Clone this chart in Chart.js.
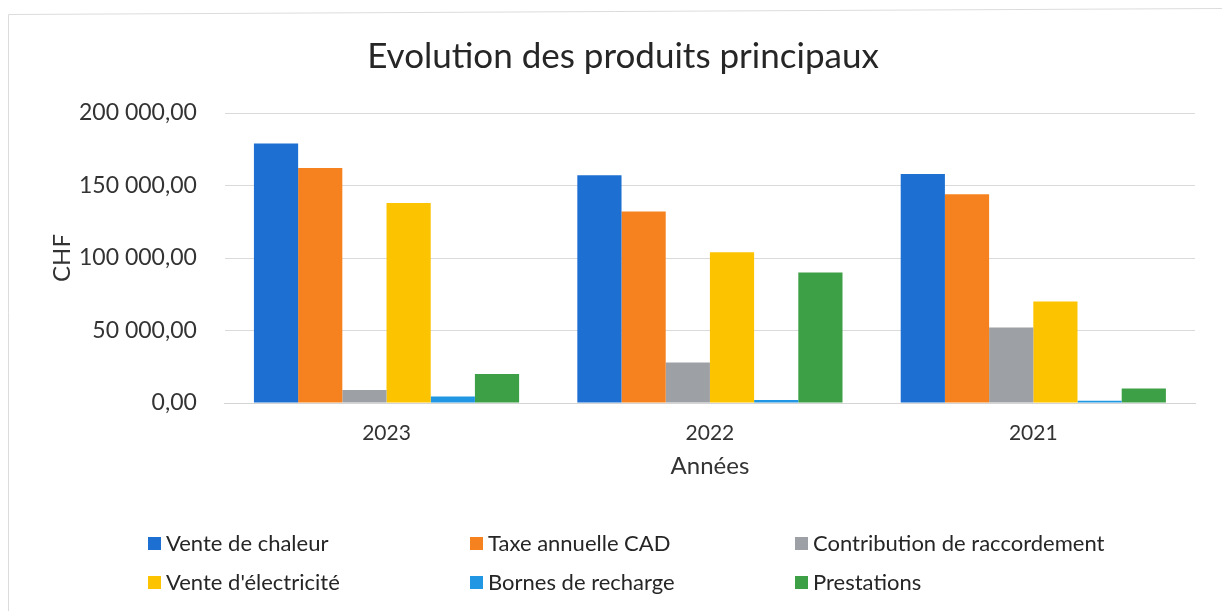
<!DOCTYPE html>
<html>
<head>
<meta charset="utf-8">
<script src="https://cdn.jsdelivr.net/npm/chart.js@4"></script>
<style>
  html, body { margin: 0; padding: 0; background: #fff; }
  #wrap { position: relative; width: 1222px; height: 611px; }
</style>
</head>
<body>
<div id="wrap"><canvas id="myChart" width="1222" height="611"></canvas></div>
<script>
const years = ['2023', '2022', '2021'];
const seriesNames = ['Vente de chaleur', 'Taxe annuelle CAD', 'Contribution de raccordement',
                     "Vente d'électricité", 'Bornes de recharge', 'Prestations'];
const venteChaleur = [179000, 157000, 158000];
const taxeCAD = [162000, 132000, 144000];
const contribution = [9000, 28000, 52000];
const venteElec = [138000, 104000, 70000];
const bornes = [4500, 2000, 1500];
const prestations = [20000, 90000, 10000];
const yTicks = [0, 50000, 100000, 150000, 200000];
const colors = ['#1d6fd1', '#f6821f', '#9da0a4', '#fcc300', '#2196e3', '#3ea046'];

const FONT = "Lato, 'Noto Sans', sans-serif";

function fmt(v) {
    const parts = v.toFixed(2).split('.');
    return parts[0].replace(/\B(?=(\d{3})+(?!\d))/g, ' ') + ',' + parts[1];
}

// legend laid out as a 3 column grid, like the excel one, plus the CHF axis title
const gridLegend = {
    id: 'gridLegend',
    afterDraw(chart) {
        const ctx = chart.ctx;
        const area = chart.chartArea;
        const colX = [148, 470, 795];
        const rowY = [543, 582];
        ctx.save();
        // faint frame of the scanned chart
        ctx.strokeStyle = '#dcdcdc';
        ctx.lineWidth = 1;
        ctx.beginPath();
        ctx.moveTo(8.5, 611);
        ctx.lineTo(8.5, 14.5);
        ctx.lineTo(1222, 8.5);
        ctx.stroke();

        // y axis title
        ctx.save();
        ctx.translate(62, (area.top + area.bottom) / 2);
        ctx.rotate(-Math.PI / 2);
        ctx.font = '24px ' + FONT;
        ctx.fillStyle = '#333';
        ctx.textAlign = 'center';
        ctx.textBaseline = 'middle';
        ctx.fillText('CHF', 0, 0);
        ctx.restore();

        ctx.font = '22px ' + FONT;
        ctx.textBaseline = 'middle';
        chart.data.datasets.forEach((ds, i) => {
            const x = colX[i % 3];
            const y = rowY[Math.floor(i / 3)];
            ctx.fillStyle = ds.backgroundColor;
            ctx.fillRect(x, y - 6, 13, 13);
            ctx.fillStyle = '#262626';
            ctx.fillText(ds.label, x + 18, y + 1);
        });
        ctx.restore();
    }
};

const seriesData = [venteChaleur, taxeCAD, contribution, venteElec, bornes, prestations];

const data = {
    labels: years,
    datasets: seriesNames.map((name, i) => ({
        label: name,
        data: seriesData[i],
        backgroundColor: colors[i],
        borderWidth: 0,
        categoryPercentage: 0.82,
        barPercentage: 1.0
    }))
};

const config = {
    type: 'bar',
    data: data,
    options: {
        responsive: false,
        animation: false,
        layout: { padding: { left: 51, right: 27, top: 26, bottom: 126 } },
        plugins: {
            legend: { display: false },
            tooltip: { enabled: false },
            title: {
                display: true,
                text: 'Evolution des produits principaux',
                color: '#262626',
                font: { family: FONT, size: 35, weight: 'normal' },
                padding: { top: 10, bottom: 35 }
            }
        },
        scales: {
            x: {
                grid: { display: false },
                border: { color: '#d4d4d4' },
                ticks: { color: '#333', font: { family: FONT, size: 21 }, padding: 10 },
                title: { display: true, text: 'Années', color: '#333', font: { family: FONT, size: 24 }, padding: { top: -4, bottom: 4 } }
            },
            y: {
                min: 0,
                max: 200000,
                afterBuildTicks(axis) { axis.ticks = yTicks.map(v => ({ value: v })); },
                grid: { color: '#dadada', drawTicks: false },
                border: { display: false },
                ticks: { color: '#333', font: { family: FONT, size: 23 }, padding: 28, callback: v => fmt(v) },
                title: { display: false }
            }
        }
    },
    plugins: [gridLegend]
};

const myChart = new Chart(document.getElementById('myChart'), config);
</script>
</body>
</html>
